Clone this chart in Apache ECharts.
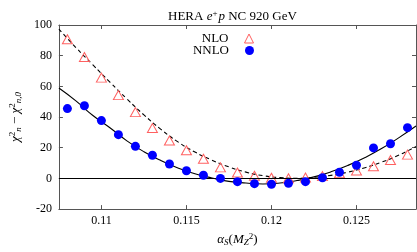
<!DOCTYPE html>
<html><head><meta charset="utf-8">
<script src="https://cdn.jsdelivr.net/npm/echarts@6/dist/echarts.min.js"></script>
<style>html,body{margin:0;padding:0;background:#fff}#c{width:417px;height:252px}</style>
</head><body><div id="c"></div>
<script>
// alpha_s values of the points
const alphaS = [0.108,0.109,0.110,0.111,0.112,0.113,0.114,0.115,0.116,0.117,0.118,0.119,0.120,0.121,0.122,0.123,0.124,0.125,0.126,0.127,0.128];
const nloPoints  = [90.7,79.1,65.7,54.3,43.2,32.8,24.7,18.4,12.8,7.2,3.8,1.7,0.4,0.1,0.6,1.5,3.4,5.1,7.9,12.0,15.5];
const nnloPoints = [45.5,47.4,37.7,28.5,20.9,15.1,9.4,5.0,2.1,0.0,-2.1,-3.4,-3.8,-3.2,-2.1,0.4,4.0,8.6,19.9,22.6,33.1];
// fit curves sampled along alpha_s
const fitX    = [0.1075,0.1085,0.1095,0.1105,0.1115,0.1125,0.1135,0.1145,0.1155,0.1165,0.1175,0.1185,0.1195,0.1205,0.1215,0.1225,0.1235,0.1245,0.1255,0.1265,0.1275,0.1285];
const nloFit  = [97.3,85.3,74.0,62.8,51.8,41.4,32.0,23.8,17.2,11.9,7.5,4.1,1.8,0.5,0.1,0.7,2.0,4.1,7.0,10.7,15.2,20.8];
const nnloFit = [58.9,50.5,41.0,33.0,24.5,17.4,11.6,6.8,3.0,0.3,-1.9,-3.0,-3.6,-3.0,-1.4,1.0,4.3,8.5,13.6,19.6,26.6,34.2];
const xTicks = [0.11,0.115,0.12,0.125];
const xTickLabels = ['0.11','0.115','0.12','0.125'];
const yMin = -20, yMax = 100, yStep = 20;

const SERIF = 'Liberation Serif';
const pair = (xs, ys) => xs.map((x,i)=>[x, ys[i]]);
const axisGray = '#555';
const nloColor = '#ff6060';

const chart = echarts.init(document.getElementById('c'), null, {renderer:'canvas'});
const baseX = {
  type:'value', min:0.1075, max:0.1285,
  axisLine:{show:true, onZero:false, lineStyle:{color:axisGray, width:1}},
  splitLine:{show:false},
};
const baseY = {
  type:'value', min:yMin, max:yMax, interval:yStep,
  axisLine:{show:true, onZero:false, lineStyle:{color:axisGray, width:1}},
  splitLine:{show:false},
};
const legendText = {fontFamily:SERIF, fontSize:13, color:'#000', padding:[0,11,0,0]};
chart.setOption({
  animation:false,
  backgroundColor:'#fff',
  title:{
    text:'{n|HERA }{i|e}{s|+}{i|p}{n| NC 920 GeV}',
    left:163, top:4,
    textStyle:{fontWeight:'normal', rich:{
      n:{fontFamily:SERIF, fontSize:13, fontWeight:'normal', color:'#000'},
      i:{fontFamily:SERIF, fontSize:13, fontWeight:'normal', fontStyle:'italic', color:'#000'},
      s:{fontFamily:SERIF, fontSize:9, fontWeight:'normal', color:'#000', padding:[0,1,7,0]}
    }}
  },
  legend:[
    {data:[{name:'NLO', itemStyle:{color:'rgba(255,255,255,0)', borderColor:nloColor, borderWidth:1, opacity:1}}],
     right:163, top:32, padding:0, itemWidth:9, itemHeight:9, itemGap:0, align:'right',
     textStyle:legendText, selectedMode:false},
    {data:[{name:'NNLO', itemStyle:{color:'#0000ff', opacity:1}}], right:163, top:44, padding:0, itemWidth:9, itemHeight:9, itemGap:0, align:'right',
     textStyle:legendText, selectedMode:false}
  ],
  grid:{left:52, right:1, top:25, bottom:35, containLabel:false},
  xAxis:[
    Object.assign({}, baseX, {
      position:'bottom',
      axisTick:{show:true, inside:true, length:4, customValues:xTicks, lineStyle:{color:axisGray}},
      axisLabel:{show:true, customValues:xTicks, margin:6, fontFamily:SERIF, fontSize:12, color:'#000',
        formatter:(v)=>{const i=xTicks.findIndex(t=>Math.abs(t-v)<1e-9); return i>=0?xTickLabels[i]:'';}},
      name:'{i|α}{sb|S}{n|(}{i|M}{sb|Z}{sp|2}{n|)}', nameLocation:'middle', nameGap:18,
      nameTextStyle:{rich:{
        n:{fontFamily:SERIF, fontSize:13, color:'#000'},
        i:{fontFamily:SERIF, fontSize:13, fontStyle:'italic', color:'#000'},
        sb:{fontFamily:SERIF, fontSize:9, fontStyle:'italic', color:'#000', padding:[5,0,0,0]},
        sp:{fontFamily:SERIF, fontSize:9, color:'#000', padding:[0,0,7,0]}
      }}
    }),
    Object.assign({}, baseX, {
      position:'top',
      axisTick:{show:true, inside:true, length:4, customValues:xTicks, lineStyle:{color:axisGray}},
      axisLabel:{show:false}
    })
  ],
  yAxis:[
    Object.assign({}, baseY, {
      position:'left',
      axisTick:{show:true, inside:true, length:4, lineStyle:{color:axisGray}},
      axisLabel:{show:true, margin:7, fontFamily:SERIF, fontSize:12, color:'#000'},
      name:'{i|χ}{sp|2}{sb|n}{n| − }{i|χ}{sp|2}{sb|n,0}', nameLocation:'middle', nameGap:34, nameRotate:90,
      nameTextStyle:{rich:{
        n:{fontFamily:SERIF, fontSize:13, color:'#000'},
        i:{fontFamily:SERIF, fontSize:13, fontStyle:'italic', color:'#000'},
        sb:{fontFamily:SERIF, fontSize:9, fontStyle:'italic', color:'#000', padding:[5,0,0,0]},
        sp:{fontFamily:SERIF, fontSize:9, color:'#000', padding:[0,0,7,0]}
      }}
    }),
    Object.assign({}, baseY, {
      position:'right',
      axisTick:{show:true, inside:true, length:4, lineStyle:{color:axisGray}},
      axisLabel:{show:false}
    })
  ],
  series:[
    {name:'NLO fit', type:'line', data:pair(fitX, nloFit), smooth:true, showSymbol:false, symbol:'none', z:2,
     lineStyle:{color:'#000', width:1.1, type:[4,3]}, silent:true},
    {name:'NNLO fit', type:'line', data:pair(fitX, nnloFit), smooth:true, showSymbol:false, symbol:'none', z:2,
     lineStyle:{color:'#000', width:1.1}, silent:true,
     markLine:{silent:true, symbol:['none','none'], label:{show:false},
       lineStyle:{color:'#000', width:1.2, type:'solid'}, data:[{yAxis:0}]}},
    {name:'NLO', type:'scatter', data:pair(alphaS, nloPoints), symbol:'triangle', symbolSize:[10,9], z:4,
     itemStyle:{color:'rgba(255,255,255,0)', borderColor:nloColor, borderWidth:1, opacity:1}},
    {name:'NNLO', type:'scatter', data:pair(alphaS, nnloPoints), symbol:'circle', symbolSize:9, z:5,
     itemStyle:{color:'#0000ff', opacity:1}}
  ]
});
</script></body></html>
